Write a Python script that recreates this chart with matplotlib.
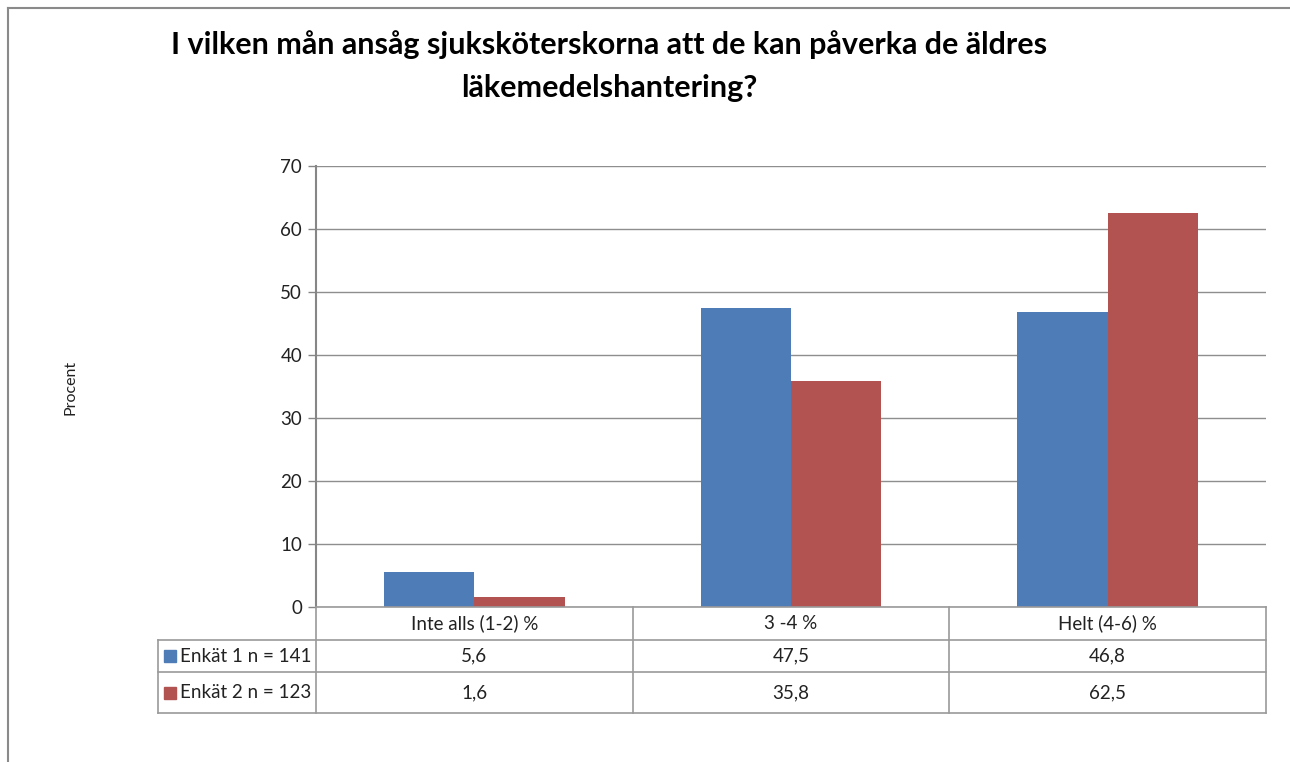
import matplotlib
matplotlib.use("Agg")
import matplotlib.pyplot as plt
from matplotlib.lines import Line2D
from matplotlib.patches import Rectangle

categories = ["Inte alls (1-2) %", "3 -4 %", "Helt (4-6) %"]
series_names = ["Enkät 1 n = 141", "Enkät 2 n = 123"]
enkat1 = [5.6, 47.5, 46.8]
enkat2 = [1.6, 35.8, 62.5]
value_labels = [["5,6", "47,5", "46,8"], ["1,6", "35,8", "62,5"]]
yticks = [0, 10, 20, 30, 40, 50, 60, 70]
title_lines = ["I vilken mån ansåg sjuksköterskorna att de kan påverka de äldres",
               "läkemedelshantering?"]

colors = ["#4E7CB7", "#B25352"]
grid_c = "#8E8E8E"
axis_c = "#868686"
font = ["Lato", "DejaVu Sans"]
fs = 13.5

W, H = 1290, 762
fig = plt.figure(figsize=(W / 100, H / 100), dpi=100)

def fx(px):
    return px / W

def fy(py):
    return 1 - py / H

ax_l, ax_r, ax_t, ax_b = 316, 1266, 166, 607
ax = fig.add_axes([fx(ax_l), fy(ax_b), fx(ax_r - ax_l), (ax_b - ax_t) / H])

n = len(categories)
bw = 1 / 3.5
x = list(range(n))
ax.bar([i - bw / 2 for i in x], enkat1, width=bw, color=colors[0], zorder=3)
ax.bar([i + bw / 2 for i in x], enkat2, width=bw, color=colors[1], zorder=3)

ax.set_xlim(-0.5, n - 0.5)
ax.set_ylim(0, 70)
ax.set_yticks(yticks)
ax.set_yticklabels([str(t) for t in yticks], fontsize=fs, family=font, color="#222222")
ax.set_xticks([])
for t in yticks:
    ax.axhline(t, color=grid_c, lw=1.0, zorder=1)
for s in ["top", "right", "bottom"]:
    ax.spines[s].set_visible(False)
ax.spines["left"].set_color(axis_c)
ax.spines["left"].set_linewidth(1.5)
ax.tick_params(axis="y", length=6, width=1, color=axis_c, pad=4)

fig.text(fx(70), fy(387), "Procent", rotation=90, ha="center", va="center",
         fontsize=11.5, family=font, color="#222222")

fig.text(fx(609), fy(45), title_lines[0], ha="center", va="center", fontsize=22,
         fontweight="bold", family=font, color="black")
fig.text(fx(609), fy(88), title_lines[1], ha="center", va="center", fontsize=22,
         fontweight="bold", family=font, color="black")

# data table
tc = "#9A9A9A"
header_b = 640
rows = [(640, 672), (672, 713)]
tab_l = 158
def hline(y, x0, x1):
    fig.add_artist(Line2D([fx(x0), fx(x1)], [fy(y), fy(y)], color=tc, lw=1.2))
def vline(xp, y0, y1):
    fig.add_artist(Line2D([fx(xp), fx(xp)], [fy(y0), fy(y1)], color=tc, lw=1.2))

hline(ax_b, ax_l, ax_r)
hline(header_b, tab_l, ax_r)
hline(rows[0][1], tab_l, ax_r)
hline(rows[1][1], tab_l, ax_r)
vline(tab_l, header_b, rows[1][1])
vline(ax_l, ax_b, rows[1][1])
cw = (ax_r - ax_l) / n
for i in range(1, n + 1):
    vline(ax_l + cw * i, ax_b, rows[1][1])

for i, c in enumerate(categories):
    fig.text(fx(ax_l + cw * (i + 0.5)), fy((ax_b + header_b) / 2), c, ha="center",
             va="center", fontsize=fs, family=font, color="#222222")
for r, (y0, y1) in enumerate(rows):
    ym = (y0 + y1) / 2
    fig.add_artist(Rectangle((fx(tab_l + 6), fy(ym + 6)), fx(12), 12 / H,
                             color=colors[r], transform=fig.transFigure))
    fig.text(fx(tab_l + 22), fy(ym), series_names[r], ha="left", va="center",
             fontsize=fs, family=font, color="#222222")
    for i in range(n):
        fig.text(fx(ax_l + cw * (i + 0.5)), fy(ym), value_labels[r][i], ha="center",
                 va="center", fontsize=fs, family=font, color="#222222")

# outer chart border (partially visible)
bc = "#8A8A8A"
fig.add_artist(Line2D([fx(8), 1], [fy(8), fy(8)], color=bc, lw=1.5))
fig.add_artist(Line2D([fx(8), fx(8)], [fy(8), 0], color=bc, lw=1.5))

fig.savefig("out.png", dpi=100, facecolor="white")
